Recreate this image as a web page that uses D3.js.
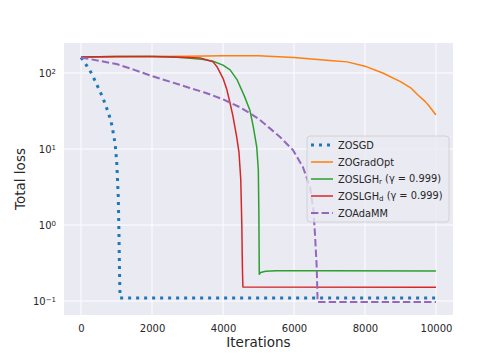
<!DOCTYPE html>
<html>
<head>
<meta charset="utf-8">
<script src="https://cdn.jsdelivr.net/npm/d3@7"></script>
<style>
body { margin: 0; background: #ffffff; }
text { font-family: "DejaVu Sans", sans-serif; fill: #262626; }
</style>
</head>
<body>
<svg id="chart"></svg>
<script>
// SIZES
var width = 504, height = 360;
var margin = {top: 43, right: 51, bottom: 45, left: 64};
var innerW = width - margin.left - margin.right;
var innerH = height - margin.top - margin.bottom;

// DATA
var seriesNames = ["ZOSGD", "ZOGradOpt", "ZOSLGHr", "ZOSLGHd", "ZOAdaMM"];
var xTicks = [0, 2000, 4000, 6000, 8000, 10000];
var yTicks = [2, 1, 0, -1];

var zosgdIter = [0, 150, 300, 400, 500, 600, 700, 800, 870, 910, 960, 1005, 1050, 1070, 1085, 1100, 10000];
var zosgdLoss = [160, 127, 98, 78, 62, 49, 37, 27, 20.5, 16, 11.8, 6.8, 2.3, 0.7, 0.23, 0.11, 0.11];

var gradIter = [0, 1000, 2000, 3000, 4000, 5000, 6000, 6500, 7000, 7500, 8000, 8500, 9000, 9300, 9500, 9700, 9800, 10000];
var gradLoss = [162, 164, 165, 166, 168, 168, 160, 153, 146, 140, 123, 100, 77, 63, 51, 42, 37, 28];

var slghrIter = [0, 1000, 2000, 2500, 3000, 3400, 3700, 4000, 4200, 4400, 4600, 4760, 4850, 4950, 4995, 5010, 5022, 5060, 5200, 5500, 7000, 10000];
var slghrLoss = [162, 165, 165, 163, 158, 152, 144, 127, 110, 81, 50, 32, 20, 10.7, 5.3, 1.5, 0.225, 0.237, 0.247, 0.25, 0.25, 0.248];

var slghdIter = [0, 1000, 2000, 3000, 3350, 3550, 3720, 3830, 4000, 4110, 4200, 4280, 4390, 4450, 4500, 4530, 4545, 4560, 10000];
var slghdLoss = [162, 165, 165, 160, 158, 148, 140, 121, 85, 60, 40, 27, 14, 9, 4, 1, 0.3, 0.153, 0.152];

var adaIter = [0, 500, 1000, 1500, 2000, 2500, 3000, 3500, 4000, 4500, 4760, 5000, 5600, 5970, 6250, 6450, 6545, 6590, 6640, 6665, 10000];
var adaLoss = [160, 145, 131, 110, 91, 77, 65, 55, 45, 35, 29.5, 25, 14.5, 9.7, 5.8, 3.2, 1.6, 0.78, 0.28, 0.097, 0.097];

// STYLES
var series = [
  {name: "ZOSGD", iter: zosgdIter, loss: zosgdLoss, color: "#1f77b4", lw: 3, dash: "3,5"},
  {name: "ZOGradOpt", iter: gradIter, loss: gradLoss, color: "#ff7f0e", lw: 1.5, dash: null},
  {name: "ZOSLGHr", iter: slghrIter, loss: slghrLoss, color: "#2ca02c", lw: 1.5, dash: null, sub: "r"},
  {name: "ZOSLGHd", iter: slghdIter, loss: slghdLoss, color: "#d62728", lw: 1.5, dash: null, sub: "d"},
  {name: "ZOAdaMM", iter: adaIter, loss: adaLoss, color: "#9467bd", lw: 2, dash: "7.4,3.2"}
];

var svg = d3.select("#chart")
  .attr("width", width)
  .attr("height", height);

var g = svg.append("g")
  .attr("transform", "translate(" + margin.left + "," + margin.top + ")");

var x = d3.scaleLinear().domain([-480, 10480]).range([0, innerW]);
var y = d3.scaleLog().domain([0.0655, 248]).range([innerH, 0]);

// BACKGROUND + GRID
g.append("rect")
  .attr("width", innerW)
  .attr("height", innerH)
  .style("fill", "#eaeaf2");

g.selectAll(".xgrid")
  .data(xTicks)
  .enter().append("line")
  .attr("x1", function(d) { return x(d); })
  .attr("x2", function(d) { return x(d); })
  .attr("y1", 0).attr("y2", innerH)
  .style("stroke", "#ffffff").style("stroke-width", 1);

g.selectAll(".ygrid")
  .data(yTicks)
  .enter().append("line")
  .attr("y1", function(d) { return y(Math.pow(10, d)); })
  .attr("y2", function(d) { return y(Math.pow(10, d)); })
  .attr("x1", 0).attr("x2", innerW)
  .style("stroke", "#ffffff").style("stroke-width", 1);

// AXES
var xAxis = g.append("g")
  .attr("transform", "translate(0," + innerH + ")")
  .call(d3.axisBottom(x).tickValues(xTicks).tickSize(0).tickPadding(10).tickFormat(d3.format("d")));
xAxis.select(".domain").remove();
xAxis.selectAll("text").style("font-size", "10px").style("fill", "#262626");

var yAxis = g.append("g")
  .call(d3.axisLeft(y).tickValues(yTicks.map(function(d) { return Math.pow(10, d); })).tickSize(0).tickPadding(8).tickFormat(""));
yAxis.select(".domain").remove();
yAxis.selectAll(".tick text").each(function(d) {
  var t = d3.select(this);
  var e = Math.round(Math.log10(d));
  t.style("font-size", "10px").style("fill", "#262626");
  t.append("tspan").text("10");
  t.append("tspan").attr("dy", "-0.45em").style("font-size", "7px").text(e < 0 ? "\u2212" + (-e) : e);
});

// LINES
var line = d3.line()
  .x(function(d) { return x(d[0]); })
  .y(function(d) { return y(d[1]); });

series.forEach(function(s) {
  var pts = s.iter.map(function(v, i) { return [v, s.loss[i]]; });
  g.append("path")
    .datum(pts)
    .attr("d", line)
    .style("fill", "none")
    .style("stroke", s.color)
    .style("stroke-width", s.lw)
    .style("stroke-dasharray", s.dash)
    .style("stroke-linejoin", "round");
});

// LEGEND
var legend = svg.append("g").attr("transform", "translate(307,136)");
legend.append("rect")
  .attr("width", 142).attr("height", 86).attr("rx", 3)
  .style("fill", "#eaeaf2").style("fill-opacity", 0.8)
  .style("stroke", "#cccccc").style("stroke-width", 0.8);

series.forEach(function(s, i) {
  var ly = 9 + i * 17;
  legend.append("line")
    .attr("x1", 4).attr("x2", 26).attr("y1", ly).attr("y2", ly)
    .style("stroke", s.color).style("stroke-width", s.lw)
    .style("stroke-dasharray", s.dash);
  var t = legend.append("text")
    .attr("x", 31).attr("y", ly + 3.5)
    .style("font-size", "9.8px");
  if (s.sub) {
    t.append("tspan").text("ZOSLGH");
    t.append("tspan").attr("dy", "0.25em").style("font-size", "7px").text(s.sub);
    t.append("tspan").attr("dy", "-0.25em").text(" (\u03b3 = 0.999)");
  } else {
    t.text(s.name);
  }
});

// AXIS TITLES
svg.append("text")
  .attr("x", margin.left + innerW / 2)
  .attr("y", 347)
  .style("text-anchor", "middle")
  .style("font-size", "13.5px")
  .text("Iterations");

svg.append("text")
  .attr("transform", "translate(25," + (margin.top + innerH / 2) + ") rotate(-90)")
  .style("text-anchor", "middle")
  .style("font-size", "13.5px")
  .text("Total loss");
</script>
</body>
</html>
